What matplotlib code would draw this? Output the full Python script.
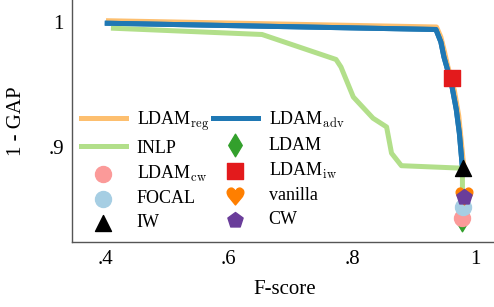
import numpy as np
import matplotlib
matplotlib.use("Agg")
import matplotlib.pyplot as plt
from matplotlib.textpath import TextPath
from matplotlib.font_manager import FontProperties
from matplotlib.markers import MarkerStyle
from matplotlib.path import Path

plt.rcParams['font.family'] = ['Liberation Serif', 'DejaVu Serif']
plt.rcParams['mathtext.fontset'] = 'cm'

# curves (F-score, 1 - GAP)
reg_x = [0.405, 0.937, 0.944, 0.950, 0.955, 0.966, 0.973, 0.977, 0.981]
reg_y = [1.001, 0.996, 0.988, 0.976, 0.965, 0.945, 0.925, 0.905, 0.885]
adv_x = [0.403, 0.936, 0.944, 0.949, 0.961, 0.969, 0.974, 0.979]
adv_y = [0.999, 0.994, 0.984, 0.972, 0.951, 0.930, 0.911, 0.883]
inlp_x = [0.413, 0.654, 0.774, 0.782, 0.802, 0.834, 0.856, 0.864, 0.880, 0.979, 0.979]
inlp_y = [0.995, 0.990, 0.970, 0.964, 0.940, 0.923, 0.916, 0.895, 0.885, 0.883, 0.860]

# single points
points = {
    'LDAM': (0.979, 0.8415),
    'LDAM_cw': (0.979, 0.843),
    'FOCAL': (0.980, 0.852),
    'vanilla': (0.981, 0.861),
    'CW': (0.981, 0.860),
    'IW': (0.980, 0.883),
    'LDAM_iw': (0.962, 0.955),
}

# heart marker built from the glyph, centred on the origin
tp = TextPath((0, 0), '\u2665', prop=FontProperties(family='DejaVu Sans'))
v = tp.vertices.copy()
ext = tp.get_extents()
v[:, 0] -= (ext.x0 + ext.x1) / 2
v[:, 1] -= (ext.y0 + ext.y1) / 2
heart_marker = MarkerStyle(Path(v, tp.codes))

fig = plt.figure(figsize=(4.94, 3.07), dpi=100)
ax = fig.add_axes([0.146, 0.212, 0.86, 0.788])

lw = 3.6
l_reg, = ax.plot(reg_x, reg_y, color='#fdbf6f', lw=lw, label=r'LDAM$_{\mathrm{reg}}$')
l_adv, = ax.plot(adv_x, adv_y, color='#1f78b4', lw=lw, label=r'LDAM$_{\mathrm{adv}}$')
l_inlp, = ax.plot(inlp_x, inlp_y, color='#b2df8a', lw=lw, label='INLP')
# redraw blue on top of green
ax.plot(adv_x, adv_y, color='#1f78b4', lw=lw)

ms = 11.5
h_ldam = ax.scatter(*points['LDAM'], marker='d', s=ms**2, color='#33a02c', zorder=3, label='LDAM')
h_cw_l = ax.scatter(*points['LDAM_cw'], marker='o', s=ms**2, color='#fb9a99', zorder=4, label=r'LDAM$_{\mathrm{cw}}$')
h_focal = ax.scatter(*points['FOCAL'], marker='o', s=ms**2, color='#a6cee3', zorder=5, label='FOCAL')
h_van = ax.scatter(*points['vanilla'], marker=heart_marker, s=(ms * 1.3)**2, color='#ff7f00', zorder=6, label='vanilla')
h_cw = ax.scatter(*points['CW'], marker='p', s=ms**2, color='#6a3d9a', zorder=7, label='CW')
h_iw = ax.scatter(*points['IW'], marker='^', s=ms**2, color='black', zorder=8, label='IW')
h_liw = ax.scatter(*points['LDAM_iw'], marker='s', s=ms**2, color='#e31a1c', zorder=8, label=r'LDAM$_{\mathrm{iw}}$')

handles = [l_reg, l_inlp, h_cw_l, h_focal, h_iw, l_adv, h_ldam, h_liw, h_van, h_cw]
ax.legend(handles=handles, ncol=2, frameon=False, fontsize=13,
          loc='upper left', bbox_to_anchor=(0.02, 0.55),
          borderpad=0, borderaxespad=0,
          handlelength=2.5, handletextpad=0.6, columnspacing=0.2,
          labelspacing=0.38)

ax.set_xlim(0.346, 1.035)
ax.set_ylim(0.824, 1.0176)
ax.set_xticks([0.4, 0.6, 0.8, 1.0])
ax.set_xticklabels(['.4', '.6', '.8', '1'])
ax.set_yticks([0.9, 1.0])
ax.set_yticklabels(['.9', '1'])
ax.tick_params(length=0, labelsize=15, pad=6)
ax.spines['top'].set_visible(False)
ax.spines['right'].set_visible(False)
for s in ('left', 'bottom'):
    ax.spines[s].set_color('#555555')
    ax.spines[s].set_linewidth(1.0)
ax.set_xlabel('F-score', fontsize=15, labelpad=8)
ax.set_ylabel('1 - GAP', fontsize=15, labelpad=16)

fig.savefig('out.png', dpi=100)
